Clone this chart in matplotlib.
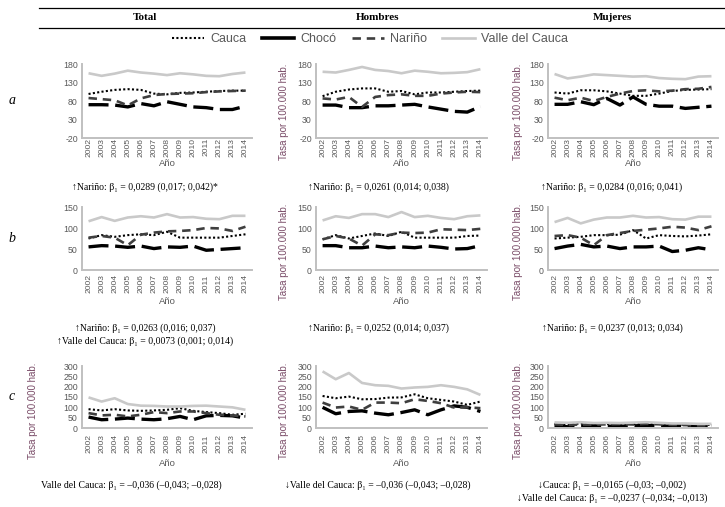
import matplotlib
matplotlib.use('Agg')
import matplotlib.pyplot as plt
from matplotlib.lines import Line2D
from matplotlib import font_manager

W, H = 725, 507

years = [str(y) for y in range(2002, 2015)]
series = ['Cauca', 'Chocó', 'Nariño', 'Valle del Cauca']
columns = ['Total', 'Hombres', 'Mujeres']

# ---- Row a ----
a_total_cauca = [99, 105, 110, 112, 110, 100, 98, 102, 103, 105, 107, 108, 108]
a_total_choco = [70, 70, 69, 64, 73, 67, 78, 71, 64, 62, 57, 57, 66]
a_total_narino = [88, 85, 82, 68, 87, 96, 99, 100, 101, 104, 106, 107, 108]
a_total_valle = [155, 148, 154, 162, 157, 154, 150, 155, 152, 148, 147, 153, 157]

a_hom_cauca = [93, 105, 111, 114, 114, 105, 107, 98, 103, 103, 105, 107, 108]
a_hom_choco = [69, 69, 62, 62, 67, 67, 69, 71, 64, 58, 52, 50, 65]
a_hom_narino = [87, 84, 91, 64, 91, 96, 98, 94, 94, 100, 103, 105, 104]
a_hom_valle = [159, 157, 164, 172, 164, 161, 155, 162, 159, 155, 156, 158, 166]

a_muj_cauca = [103, 100, 109, 109, 106, 100, 94, 94, 100, 107, 110, 111, 112]
a_muj_choco = [71, 71, 78, 70, 87, 69, 91, 71, 66, 66, 60, 63, 66]
a_muj_narino = [89, 82, 89, 80, 91, 100, 107, 109, 106, 108, 112, 113, 118]
a_muj_valle = [153, 141, 146, 152, 150, 148, 146, 147, 142, 140, 139, 146, 147]

# ---- Row b ----
b_total_cauca = [75, 83, 79, 83, 85, 83, 91, 77, 77, 77, 77, 81, 85]
b_total_choco = [55, 58, 57, 54, 57, 51, 55, 54, 57, 47, 49, 51, 53]
b_total_narino = [77, 81, 77, 59, 84, 89, 92, 93, 95, 100, 99, 93, 103]
b_total_valle = [116, 126, 117, 125, 128, 125, 133, 125, 126, 122, 121, 129, 129]

b_hom_cauca = [73, 83, 75, 81, 87, 81, 91, 77, 77, 77, 77, 81, 82]
b_hom_choco = [58, 58, 53, 53, 57, 53, 55, 53, 57, 54, 50, 51, 58]
b_hom_narino = [73, 81, 75, 58, 85, 83, 89, 88, 89, 97, 96, 95, 98]
b_hom_valle = [118, 128, 124, 133, 133, 126, 138, 126, 129, 124, 121, 128, 130]

b_muj_cauca = [75, 77, 79, 83, 83, 84, 95, 75, 83, 81, 80, 82, 85]
b_muj_choco = [51, 57, 61, 55, 57, 51, 55, 55, 57, 44, 47, 53, 48]
b_muj_narino = [81, 83, 77, 59, 83, 88, 93, 96, 99, 103, 101, 95, 104]
b_muj_valle = [114, 124, 111, 120, 125, 125, 129, 125, 126, 121, 120, 127, 127]

# ---- Row c ----
c_total_cauca = [91, 85, 91, 85, 83, 85, 88, 96, 83, 77, 72, 64, 69]
c_total_choco = [53, 40, 43, 48, 43, 40, 45, 56, 40, 59, 61, 59, 48]
c_total_narino = [72, 61, 64, 56, 64, 77, 72, 80, 80, 72, 64, 61, 56]
c_total_valle = [148, 128, 144, 116, 108, 107, 104, 104, 107, 108, 104, 100, 88]

c_hom_cauca = [155, 144, 152, 139, 140, 147, 148, 163, 144, 136, 128, 112, 128]
c_hom_choco = [100, 69, 80, 83, 72, 64, 75, 88, 64, 88, 107, 100, 80]
c_hom_narino = [123, 99, 104, 88, 123, 123, 120, 139, 131, 120, 99, 100, 96]
c_hom_valle = [274, 236, 266, 218, 207, 204, 191, 196, 199, 207, 199, 187, 160]

c_muj_cauca = [20, 18, 22, 21, 19, 21, 19, 24, 19, 17, 16, 15, 15]
c_muj_choco = [12, 6, 10, 11, 9, 9, 10, 13, 9, 11, 11, 11, 9]
c_muj_narino = [18, 15, 17, 16, 18, 19, 17, 20, 18, 15, 14, 12, 13]
c_muj_valle = [27, 25, 28, 24, 25, 24, 26, 28, 25, 22, 22, 20, 20]

data = {
    'a': [[a_total_cauca, a_total_choco, a_total_narino, a_total_valle],
          [a_hom_cauca, a_hom_choco, a_hom_narino, a_hom_valle],
          [a_muj_cauca, a_muj_choco, a_muj_narino, a_muj_valle]],
    'b': [[b_total_cauca, b_total_choco, b_total_narino, b_total_valle],
          [b_hom_cauca, b_hom_choco, b_hom_narino, b_hom_valle],
          [b_muj_cauca, b_muj_choco, b_muj_narino, b_muj_valle]],
    'c': [[c_total_cauca, c_total_choco, c_total_narino, c_total_valle],
          [c_hom_cauca, c_hom_choco, c_hom_narino, c_hom_valle],
          [c_muj_cauca, c_muj_choco, c_muj_narino, c_muj_valle]],
}

yticks_a = [-20, 30, 80, 130, 180]
yticks_b = [0, 50, 100, 150]
yticks_c = [0, 50, 100, 150, 200, 250, 300]

notes = {
    'a': [['↑Nariño: β₁ = 0,0289 (0,017; 0,042)*'],
          ['↑Nariño: β₁ = 0,0261 (0,014; 0,038)'],
          ['↑Nariño: β₁ = 0,0284 (0,016; 0,041)']],
    'b': [['↑Nariño: β₁ = 0,0263 (0,016; 0,037)', '↑Valle del Cauca: β₁ = 0,0073 (0,001; 0,014)'],
          ['↑Nariño: β₁ = 0,0252 (0,014; 0,037)'],
          ['↑Nariño: β₁ = 0,0237 (0,013; 0,034)']],
    'c': [['Valle del Cauca: β₁ = –0,036 (–0,043; –0,028)'],
          ['↓Valle del Cauca: β₁ = –0,036 (–0,043; –0,028)'],
          ['↓Cauca: β₁ = –0,0165 (–0,03; –0,002)', '↓Valle del Cauca: β₁ = –0,0237 (–0,034; –0,013)']],
}

# ---- fonts ----
avail = {f.name for f in font_manager.fontManager.ttflist}
SANS = [f for f in ['Liberation Sans Narrow', 'Liberation Sans', 'DejaVu Sans'] if f in avail]
SERIF = [f for f in ['Liberation Serif', 'DejaVu Serif'] if f in avail]

TXT = '#595959'
YLAB = '#7a4c68'
AXC = '#c0c0c0'

styles = {
    'Cauca': dict(color='black', lw=1.5, ls=(0, (1, 1.1))),
    'Chocó': dict(color='black', lw=2.4, ls=(0, (6, 2))),
    'Nariño': dict(color='#3f3f3f', lw=1.9, ls=(0, (3.2, 2.2))),
    'Valle del Cauca': dict(color='#c9c9c9', lw=1.9, ls='-'),
}

fig = plt.figure(figsize=(W / 100, H / 100), dpi=100)

def fx(px):
    return px / W

def fy(py):
    return 1 - py / H

col_x = [(82, 252), (316, 487), (548, 718)]
col_center = [145, 378, 612]
ylab_x = [33, 284, 518]
rows = [
    # key, top, bottom, ylim, ticks, xtick pad(pt), Año y(px), ylabel center y, note y
    ('a', 64, 138, (-20, 180), yticks_a, 0.0, 164, 112, 187),
    ('b', 207, 270, (0, 150), yticks_b, 3.0, 301, 252, 328),
    ('c', 366, 428, (0, 300), yticks_c, 4.5, 463, 411, 485),
]

x = list(range(len(years)))
for key, top, bot, ylim, yt, xpad, ano_y, ylc, note_y in rows:
    for ci in range(3):
        x0, x1 = col_x[ci]
        ax = fig.add_axes([fx(x0), fy(bot), fx(x1) - fx(x0), (bot - top) / H])
        for si, name in enumerate(series):
            st = styles[name]
            ax.plot(x, data[key][ci][si], color=st['color'], lw=st['lw'],
                    linestyle=st['ls'], solid_capstyle='butt', dash_capstyle='butt')
        ax.set_xlim(-0.5, len(years) - 0.5)
        ax.set_ylim(*ylim)
        ax.set_yticks(yt)
        ax.set_xticks(x)
        ax.set_xticklabels(years, rotation=90, fontsize=6.1, color=TXT, family=SANS)
        ax.set_yticklabels([str(v) for v in yt], fontsize=6.3, color=TXT, family=SANS)
        ax.tick_params(axis='both', length=0)
        ax.tick_params(axis='x', pad=xpad)
        ax.tick_params(axis='y', pad=3)
        for s in ['top', 'right']:
            ax.spines[s].set_visible(False)
        for s in ['left', 'bottom']:
            ax.spines[s].set_color(AXC)
            ax.spines[s].set_linewidth(1.4)
        ax.patch.set_alpha(0)
        for ln in ax.get_lines():
            ln.set_clip_on(False)
        # axis titles
        fig.text(fx((x0 + x1) / 2), fy(ano_y), 'Año', fontsize=6.8, color=TXT,
                 family=SANS, ha='center', va='center')
        if not (ci == 0 and key in ('a', 'b')):
            fig.text(fx(ylab_x[ci]), fy(ylc), 'Tasa por 100.000 hab.', fontsize=7,
                     color=YLAB, family=SANS, rotation=90, ha='center', va='center')
        # notes
        cx = col_center[ci] if not (key == 'c' and ci == 0) else 131
        for li, t in enumerate(notes[key][ci]):
            fig.text(fx(cx), fy(note_y + li * 13), t, fontsize=7, family=SERIF,
                     ha='center', va='center', color='black')
    fig.text(fx(12), fy((top + bot) / 2), key, fontsize=10, family=SERIF,
             style='italic', ha='center', va='center')

# header rules and column titles
fig.add_artist(Line2D([fx(39), fx(725)], [fy(8), fy(8)], color='black', lw=0.9))
fig.add_artist(Line2D([fx(39), fx(725)], [fy(28), fy(28)], color='black', lw=0.9))
for ci, name in enumerate(columns):
    fig.text(fx(col_center[ci]), fy(18), name, fontsize=8, family=SERIF,
             weight='bold', ha='center', va='center')

# legend
handles = [
    Line2D([], [], color='black', lw=1.5, linestyle=(0, (1, 1.1))),
    Line2D([], [], color='black', lw=2.6, linestyle='-'),
    Line2D([], [], color='#3f3f3f', lw=1.9, linestyle=(0, (3.2, 2.2))),
    Line2D([], [], color='#c9c9c9', lw=1.9, linestyle='-'),
]
leg = fig.legend(handles, series, loc='center', bbox_to_anchor=(fx(370), fy(39)),
                 ncol=4, frameon=False, handlelength=2.6, handletextpad=0.5,
                 columnspacing=1.2, prop={'family': SANS, 'size': 9})
for t in leg.get_texts():
    t.set_color(TXT)

fig.savefig('out.png', dpi=100)
